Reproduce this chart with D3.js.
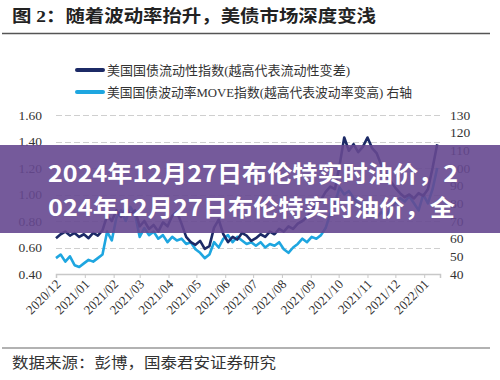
<!DOCTYPE html>
<html>
<head>
<meta charset="utf-8">
<script src="https://cdn.jsdelivr.net/npm/d3@7"></script>
<style>
  html, body { margin: 0; padding: 0; background: #fff; }
  svg { display: block; }
</style>
</head>
<body>
<svg id="chart" width="500" height="380"></svg>
<script>
// ---------- data ----------
const dates = [
  "2020-12-01","2020-12-06","2020-12-11","2020-12-16","2020-12-21","2020-12-26","2020-12-31",
  "2021-01-05","2021-01-10","2021-01-15","2021-01-20","2021-01-25","2021-01-30",
  "2021-02-04","2021-02-09","2021-02-14","2021-02-19","2021-02-24",
  "2021-03-01","2021-03-06","2021-03-11","2021-03-16","2021-03-21","2021-03-26","2021-03-31",
  "2021-04-05","2021-04-10","2021-04-15","2021-04-20","2021-04-25","2021-04-30",
  "2021-05-05","2021-05-10","2021-05-15","2021-05-20","2021-05-25","2021-05-30",
  "2021-06-04","2021-06-09","2021-06-14","2021-06-19","2021-06-24","2021-06-29",
  "2021-07-04","2021-07-09","2021-07-14","2021-07-19","2021-07-24","2021-07-29",
  "2021-08-03","2021-08-08","2021-08-13","2021-08-18","2021-08-23","2021-08-28",
  "2021-09-02","2021-09-07","2021-09-12","2021-09-17","2021-09-22","2021-09-27",
  "2021-10-02","2021-10-07","2021-10-12","2021-10-17","2021-10-22","2021-10-27",
  "2021-11-01","2021-11-06","2021-11-11","2021-11-16","2021-11-21","2021-11-26",
  "2021-12-01","2021-12-06","2021-12-11","2021-12-16","2021-12-21","2021-12-26","2021-12-31",
  "2022-01-05","2022-01-10","2022-01-15"
];
// 美国国债流动性指数 (left axis)
const liquidity = [
  0.67,0.70,0.72,0.69,0.71,0.68,0.70,
  0.67,0.71,0.69,0.73,0.84,0.80,
  0.88,0.83,0.90,0.85,0.88,
  0.76,0.80,0.74,0.77,0.72,0.79,0.76,
  0.84,0.87,0.78,0.68,0.64,0.62,
  0.65,0.59,0.61,0.75,0.81,0.70,
  0.64,0.68,0.66,0.71,0.69,0.65,
  0.67,0.70,0.68,0.72,0.70,0.74,
  0.72,0.76,0.74,0.78,0.80,0.83,
  0.88,0.92,0.96,1.02,1.06,1.04,
  1.22,1.43,1.33,1.38,1.32,1.36,
  1.43,1.35,1.31,1.22,1.15,1.10,
  1.05,1.01,0.98,1.00,0.97,1.01,0.99,
  1.04,1.20,1.38
];
// 美国国债波动率MOVE指数 (right axis)
const move = [
  49,51,47,50,45,44,46,
  48,47,49,51,64,59,
  72,76,70,78,74,
  61,66,62,64,60,62,58,
  61,59,60,57,58,54,
  52,49,51,58,55,60,
  62,58,61,59,57,58,
  56,58,55,57,56,58,
  54,52,55,57,60,58,
  61,60,62,66,74,80,
  89,85,87,83,80,78,
  76,74,72,75,73,77,
  80,83,81,84,80,76,85,
  80,88,100
];
const leftTicks = [0.40, 0.60, 0.80, 1.00, 1.20, 1.40, 1.60];
const rightTicks = [40, 50, 60, 70, 80, 90, 100, 110, 120, 130];
const monthTicks = ["2020-12-01","2021-01-01","2021-02-01","2021-03-01","2021-04-01","2021-05-01",
  "2021-06-01","2021-07-01","2021-08-01","2021-09-01","2021-10-01","2021-11-01","2021-12-01","2022-01-01"];
const seriesNames = ["美国国债流动性指数(越高代表流动性变差)", "美国国债波动率MOVE指数(越高代表波动率变高) 右轴"];
const titleText = "图 2：随着波动率抬升，美债市场深度变浅";
const sourceText = "数据来源：彭博，国泰君安证券研究";
const bannerLines = ["2024年12月27日布伦特实时油价，2", "024年12月27日布伦特实时油价，全"];

// ---------- setup ----------
const svg = d3.select("#chart");
const parse = d3.timeParse("%Y-%m-%d");
const serif = "'Liberation Serif', 'Noto Sans CJK SC', serif";
const navy = "#1c2a66";
const lightBlue = "#1ea6e0";

const plot = { left: 56, right: 440, top: 115, bottom: 274 };

const x = d3.scaleTime()
  .domain([parse("2020-12-01"), parse("2022-01-18")])
  .range([plot.left, plot.right]);
const yL = d3.scaleLinear().domain([0.4, 1.6]).range([plot.bottom, plot.top]);
const yR = d3.scaleLinear().domain([40, 130]).range([plot.bottom, plot.top]);

// title
svg.append("text")
  .attr("x", 12).attr("y", 22)
  .attr("font-family", serif).attr("font-size", 17.5).attr("font-weight", 700)
  .attr("fill", "#222")
  .attr("textLength", 364).attr("lengthAdjust", "spacingAndGlyphs")
  .text(titleText);
svg.append("line").attr("x1", 2).attr("x2", 490).attr("y1", 33.5).attr("y2", 33.5)
  .attr("stroke", "#555").attr("stroke-width", 1.3);

// legend
const legendY = [70, 92];
const legendLen = [243, 305];
[navy, lightBlue].forEach((c, i) => {
  svg.append("line").attr("x1", 77).attr("x2", 103).attr("y1", legendY[i]).attr("y2", legendY[i])
    .attr("stroke", c).attr("stroke-width", 4).attr("stroke-linecap", "round");
  svg.append("text").attr("x", 107).attr("y", legendY[i] + 4.5)
    .attr("font-family", serif).attr("font-size", 13).attr("fill", "#333")
    .attr("textLength", legendLen[i]).attr("lengthAdjust", "spacingAndGlyphs")
    .text(seriesNames[i]);
});

// gridlines
svg.append("g").selectAll("line")
  .data(leftTicks.filter(d => d > 0.4))
  .join("line")
  .attr("x1", plot.left).attr("x2", plot.right)
  .attr("y1", d => Math.round(yL(d)) + 0.5).attr("y2", d => Math.round(yL(d)) + 0.5)
  .attr("stroke", "#cfcfcf").attr("stroke-width", 1.2).attr("stroke-dasharray", "6,3");

// left axis
const gL = svg.append("g").attr("transform", `translate(${plot.left},0)`)
  .call(d3.axisLeft(yL).tickValues(leftTicks).tickFormat(d3.format(".2f")).tickSize(0).tickPadding(14));
gL.select(".domain").remove();
gL.selectAll("text").attr("font-family", serif).attr("font-size", 13.5).attr("fill", "#333");

// right axis
const gR = svg.append("g").attr("transform", `translate(${plot.right},0)`)
  .call(d3.axisRight(yR).tickValues(rightTicks).tickFormat(d3.format("d")).tickSize(0).tickPadding(10));
gR.select(".domain").remove();
gR.selectAll("text").attr("font-family", serif).attr("font-size", 13.5).attr("fill", "#333");

// x axis
const gX = svg.append("g").attr("transform", `translate(0,${plot.bottom})`)
  .call(d3.axisBottom(x).tickValues(monthTicks.map(parse)).tickFormat(d3.timeFormat("%Y/%m")).tickSize(4));
gX.select(".domain").attr("stroke", "#c8c8c8").attr("stroke-width", 1.5);
gX.selectAll(".tick line").attr("stroke", "#c8c8c8");
gX.selectAll("text")
  .attr("font-family", serif).attr("font-size", 13).attr("fill", "#333")
  .attr("text-anchor", "end").attr("dy", 0).attr("y", 0)
  .attr("transform", "translate(5,11) rotate(-45)");

// lines
const pts = dates.map((d, i) => ({ date: parse(d), a: liquidity[i], b: move[i] }));
svg.append("path").datum(pts)
  .attr("fill", "none").attr("stroke", lightBlue).attr("stroke-width", 2.6).attr("stroke-linejoin", "round")
  .attr("d", d3.line().x(d => x(d.date)).y(d => yR(d.b)));
svg.append("path").datum(pts)
  .attr("fill", "none").attr("stroke", navy).attr("stroke-width", 2.6).attr("stroke-linejoin", "round")
  .attr("d", d3.line().x(d => x(d.date)).y(d => yL(d.a)));

// source
svg.append("line").attr("x1", 2).attr("x2", 490).attr("y1", 348).attr("y2", 348)
  .attr("stroke", "#999").attr("stroke-width", 1.3);
svg.append("text").attr("x", 12).attr("y", 368)
  .attr("font-family", serif).attr("font-size", 15).attr("fill", "#333")
  .attr("textLength", 264).attr("lengthAdjust", "spacingAndGlyphs")
  .text(sourceText);

// banner overlay
svg.append("rect").attr("x", 0).attr("y", 145).attr("width", 500).attr("height", 88)
  .attr("fill", "#664890").attr("opacity", 0.9);
const bannerY = [182, 216];
const bannerLen = [410, 407];
bannerLines.forEach((t, i) => {
  svg.append("text").attr("x", 48).attr("y", bannerY[i])
    .attr("font-family", "'Noto Sans CJK SC', sans-serif").attr("font-weight", 700)
    .attr("font-size", 23).attr("fill", "#fff")
    .attr("textLength", bannerLen[i]).attr("lengthAdjust", "spacingAndGlyphs")
    .text(t);
});
</script>
</body>
</html>
